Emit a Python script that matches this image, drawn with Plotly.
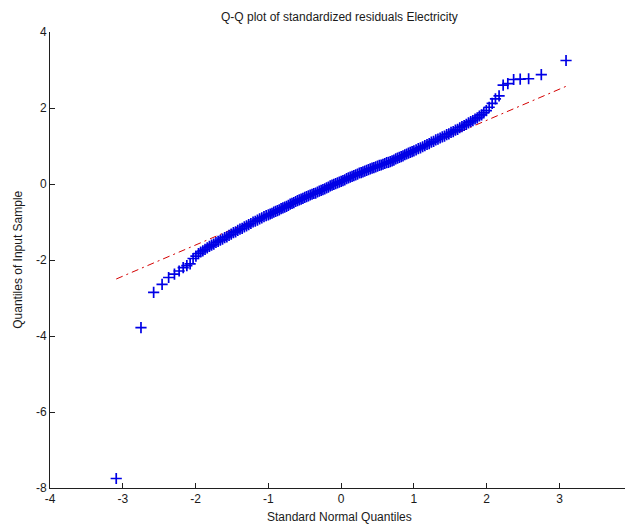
import plotly.graph_objects as go

title_text = "Q-Q plot of standardized residuals Electricity"
x_label = "Standard Normal Quantiles"
y_label = "Quantiles of Input Sample"

# Theoretical (standard normal) quantiles
normal_quantiles = [
    -3.09, -2.75, -2.576, -2.46, -2.37, -2.29, -2.226, -2.17, -2.12, -2.075, -2.034, -1.995,
    -1.96, -1.93, -1.90, -1.87, -1.84, -1.81, -1.78, -1.75, -1.72, -1.69, -1.66, -1.63,
    -1.60, -1.57, -1.54, -1.51, -1.48, -1.45, -1.42, -1.39, -1.36, -1.33, -1.30, -1.27,
    -1.24, -1.21, -1.18, -1.15, -1.12, -1.09, -1.06, -1.03, -1.00,
    -0.975, -0.950, -0.925, -0.900, -0.875, -0.850, -0.825, -0.800, -0.775, -0.750,
    -0.725, -0.700, -0.675, -0.650, -0.625, -0.600, -0.575, -0.550, -0.525, -0.500,
    -0.475, -0.450, -0.425, -0.400, -0.375, -0.350, -0.325, -0.300, -0.275, -0.250,
    -0.225, -0.200, -0.175, -0.150, -0.125, -0.100, -0.075, -0.050, -0.025, 0.000,
    0.025, 0.050, 0.075, 0.100, 0.125, 0.150, 0.175, 0.200, 0.225, 0.250,
    0.275, 0.300, 0.325, 0.350, 0.375, 0.400, 0.425, 0.450, 0.475, 0.500,
    0.525, 0.550, 0.575, 0.600, 0.625, 0.650, 0.675, 0.700, 0.725, 0.750,
    0.775, 0.800, 0.825, 0.850, 0.875, 0.900, 0.925, 0.950, 0.975,
    1.00, 1.03, 1.06, 1.09, 1.12, 1.15, 1.18, 1.21, 1.24, 1.27, 1.30, 1.33,
    1.36, 1.39, 1.42, 1.45, 1.48, 1.51, 1.54, 1.57, 1.60, 1.63, 1.66, 1.69,
    1.72, 1.75, 1.78, 1.81, 1.84, 1.87, 1.90, 1.93,
    1.96, 1.995, 2.034, 2.075, 2.12, 2.17, 2.226, 2.29, 2.37, 2.46, 2.576, 2.75, 3.09,
]

# Sample quantiles (standardized residuals)
sample_quantiles = [
    -7.75, -3.78, -2.85, -2.64, -2.46, -2.37, -2.29, -2.20, -2.15, -2.10, -1.96, -1.90,
    -1.83, -1.79, -1.76, -1.72, -1.68, -1.64, -1.61, -1.58, -1.54, -1.51, -1.48, -1.45,
    -1.41, -1.39, -1.35, -1.32, -1.28, -1.26, -1.22, -1.19, -1.17, -1.13, -1.10, -1.07,
    -1.04, -1.00, -0.98, -0.95, -0.92, -0.89, -0.86, -0.83, -0.81,
    -0.79, -0.77, -0.74, -0.72, -0.70, -0.68, -0.65, -0.63, -0.61, -0.59,
    -0.56, -0.53, -0.51, -0.49, -0.46, -0.44, -0.42, -0.40, -0.38, -0.35,
    -0.33, -0.31, -0.29, -0.27, -0.25, -0.24, -0.21, -0.19, -0.17, -0.15,
    -0.13, -0.10, -0.08, -0.05, -0.03, -0.01, 0.01, 0.03, 0.05, 0.07,
    0.09, 0.11, 0.14, 0.16, 0.18, 0.20, 0.22, 0.24, 0.26, 0.29,
    0.30, 0.32, 0.34, 0.36, 0.38, 0.40, 0.42, 0.43, 0.45, 0.47,
    0.49, 0.50, 0.52, 0.54, 0.56, 0.57, 0.59, 0.61, 0.63, 0.66,
    0.68, 0.70, 0.72, 0.74, 0.77, 0.79, 0.81, 0.83, 0.85,
    0.87, 0.90, 0.93, 0.95, 0.98, 1.01, 1.04, 1.06, 1.10, 1.12, 1.16, 1.18,
    1.21, 1.24, 1.26, 1.30, 1.32, 1.36, 1.38, 1.42, 1.44, 1.48, 1.51, 1.54,
    1.57, 1.61, 1.64, 1.67, 1.71, 1.74, 1.79, 1.82,
    1.87, 1.93, 2.02, 2.12, 2.24, 2.32, 2.60, 2.64, 2.75, 2.76, 2.77, 2.88, 3.25,
]

# Reference line (through the quartiles, extended to the data range)
ref_line_x = [-3.09, 3.09]
ref_line_y = [-2.50, 2.57]

x_ticks = [-4, -3, -2, -1, 0, 1, 2, 3]
x_tick_labels = ["-4", "-3", "-2", "-1", "0", "1", "2", "3"]
y_ticks = [-8, -6, -4, -2, 0, 2, 4]
y_tick_labels = ["-8", "-6", "-4", "-2", "0", "2", "4"]

FONT = "Liberation Sans Narrow, Arial Narrow, Liberation Sans, Arial, sans-serif"
TXT = "#1a1a1a"
AX = "#1f1f1f"

fig = go.Figure()
fig.add_trace(go.Scatter(
    x=ref_line_x, y=ref_line_y, mode="lines",
    line=dict(color="#d40000", width=1, dash="7px,4px,2px,4px"),
    showlegend=False, hoverinfo="skip",
))
fig.add_trace(go.Scatter(
    x=normal_quantiles, y=sample_quantiles, mode="markers",
    marker=dict(symbol="cross-thin", size=8, line=dict(color="#0000e6", width=1.7)),
    showlegend=False,
))

axis_common = dict(
    showgrid=False, zeroline=False, showline=True, linecolor=AX, linewidth=1,
    ticks="inside", ticklen=5, tickwidth=1, tickcolor=AX, mirror=False,
    tickfont=dict(family=FONT, size=12, color=TXT),
)

fig.update_layout(
    width=625, height=527,
    margin=dict(l=50, r=0, t=32, b=39),
    paper_bgcolor="white", plot_bgcolor="white",
    font=dict(family=FONT, size=12, color=TXT),
    xaxis=dict(range=[-4, 3.9], tickvals=x_ticks, ticktext=x_tick_labels, **axis_common),
    yaxis=dict(range=[-8, 4], tickvals=y_ticks, ticktext=y_tick_labels, **axis_common),
    annotations=[
        dict(text=title_text, xref="paper", yref="paper", x=0.503, y=1.033,
             xanchor="center", yanchor="middle", showarrow=False,
             font=dict(family=FONT, size=12, color=TXT)),
        dict(text=x_label, xref="paper", yref="paper", x=0.503, y=-0.064,
             xanchor="center", yanchor="middle", showarrow=False,
             font=dict(family=FONT, size=12, color=TXT)),
        dict(text=y_label, xref="paper", yref="paper", x=-0.056, y=0.5,
             xanchor="center", yanchor="middle", showarrow=False, textangle=-90,
             font=dict(family=FONT, size=12, color=TXT)),
    ],
)

fig.write_html("out.html")
